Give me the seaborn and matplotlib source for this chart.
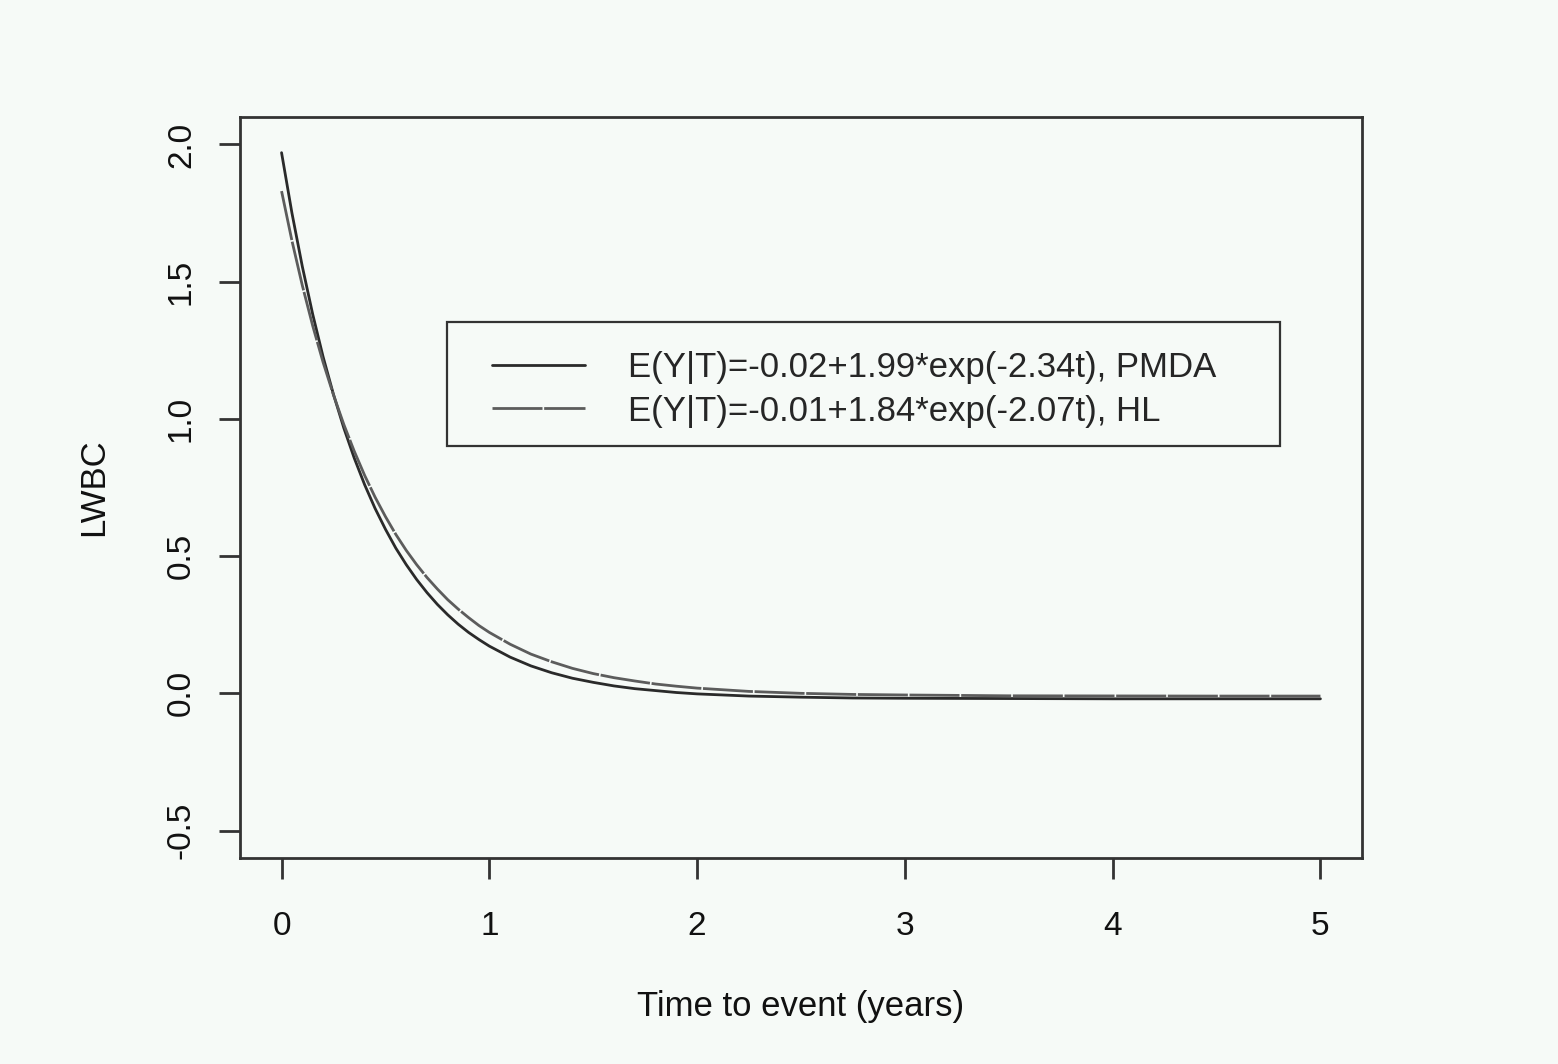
import matplotlib
matplotlib.use("Agg")
import matplotlib.pyplot as plt
import matplotlib.patches as mpatches
import seaborn as sns
import pandas as pd

sns.set_theme(style="white")
plt.rcParams['font.family'] = ['Liberation Sans', 'DejaVu Sans']

# values
t = [0.0, 0.05, 0.1, 0.15, 0.2, 0.25, 0.3, 0.35, 0.4, 0.45, 0.5, 0.55, 0.6, 0.65, 0.7,
     0.75, 0.8, 0.85, 0.9, 0.95, 1.0, 1.1, 1.2, 1.3, 1.4, 1.5, 1.6, 1.7, 1.8, 1.9, 2.0,
     2.25, 2.5, 2.75, 3.0, 3.5, 4.0, 4.5, 5.0]
pmda = [1.970, 1.750, 1.555, 1.381, 1.226, 1.089, 0.966, 0.857, 0.760, 0.674, 0.598,
        0.529, 0.469, 0.415, 0.367, 0.324, 0.286, 0.252, 0.222, 0.196, 0.172, 0.132,
        0.100, 0.075, 0.055, 0.040, 0.027, 0.017, 0.010, 0.003, -0.002,
        -0.010, -0.014, -0.017, -0.018, -0.019, -0.020, -0.020, -0.020]
hl = [1.830, 1.649, 1.486, 1.339, 1.206, 1.087, 0.979, 0.882, 0.794, 0.715, 0.644,
      0.579, 0.521, 0.469, 0.422, 0.380, 0.341, 0.307, 0.276, 0.247, 0.222, 0.179,
      0.143, 0.115, 0.091, 0.072, 0.057, 0.045, 0.034, 0.026, 0.019,
      0.007, 0.000, -0.004, -0.006, -0.009, -0.0095, -0.010, -0.010]
labels = ["E(Y|T)=-0.02+1.99*exp(-2.34t), PMDA",
          "E(Y|T)=-0.01+1.84*exp(-2.07t), HL"]

df = pd.concat([
    pd.DataFrame({"t": t, "y": pmda, "model": labels[0]}),
    pd.DataFrame({"t": t, "y": hl, "model": labels[1]}),
])

bg = "#f6faf7"
W, H = 1558, 1064
fig = plt.figure(figsize=(W/100, H/100), dpi=100, facecolor=bg)
ax = fig.add_axes([240/W, 1-858/H, (1362-240)/W, (858-117)/H])
ax.set_facecolor(bg)

sns.lineplot(data=df, x="t", y="y", hue="model", style="model",
             palette=["#2a2a2a", "#5c5c5c"], dashes=[(None, None), (18, 0.6)],
             linewidth=2.0, ax=ax, legend=True)

ax.set_xlim(-0.2, 5.2)
ax.set_ylim(-0.6, 2.1)
ax.set_xticks([0, 1, 2, 3, 4, 5])
ax.set_yticks([-0.5, 0.0, 0.5, 1.0, 1.5, 2.0])
ax.set_yticklabels(["-0.5", "0.0", "0.5", "1.0", "1.5", "2.0"], rotation=90, va="center")
for s in ax.spines.values():
    s.set_color("#333333")
    s.set_linewidth(2.0)
ax.tick_params(axis="both", direction="out", length=15, width=2, color="#333333",
               labelsize=24, labelcolor="#111111", left=True, bottom=True)
ax.tick_params(axis="x", pad=23)
ax.tick_params(axis="y", pad=16)
ax.set_xlabel("Time to event (years)", fontsize=25, color="#111111", labelpad=35)
ax.set_ylabel("LWBC", fontsize=25, color="#111111", labelpad=40)

# legend frame (axes coords)
bx0 = (447-240)/1122
bx1 = (1280-240)/1122
by1 = (858-322)/741
by0 = (858-446)/741
ax.add_patch(mpatches.Rectangle((bx0, by0), bx1-bx0, by1-by0, transform=ax.transAxes,
                                facecolor=bg, edgecolor="#333333", linewidth=1.6, zorder=4))
lx0 = (463-240)/1122
leg = ax.legend(loc="upper left", bbox_to_anchor=(lx0, by0, bx1-lx0, by1-by0), mode="expand",
                fontsize=25, frameon=False, handlelength=2.68,
                handletextpad=1.24, borderpad=0.84, labelspacing=0.3, borderaxespad=0)
leg.set_zorder(5)
for lh in leg.get_lines():
    lh.set_linewidth(2.0)

fig.savefig("out.png", dpi=100, facecolor=bg)
